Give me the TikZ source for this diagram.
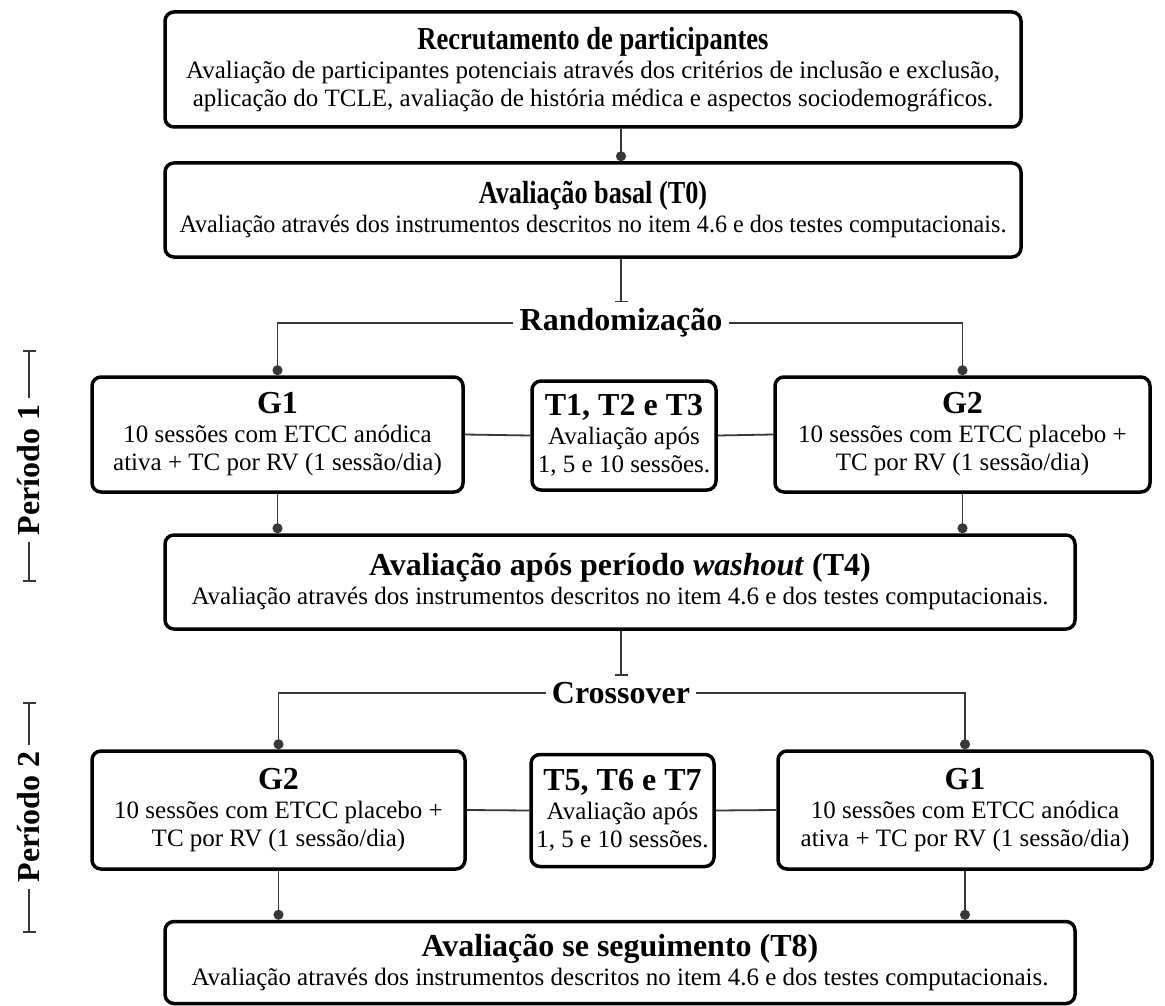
\documentclass[tikz,border=0pt]{standalone}
\usepackage{fontspec}
\setmainfont{Liberation Serif}
\usetikzlibrary{arrows.meta}
\newcommand{\ttl}{\fontsize{32}{34}\selectfont\bfseries}
\tikzset{
  box/.style={draw, line width=3.5pt, rounded corners=9pt, fill=white, align=center,
    inner sep=0pt, font=\fontsize{25}{28}\selectfont},
  conn/.style={draw=black!78, line width=1.8pt},
  dotend/.style={conn, -{Circle[length=10pt]}},
  barend/.style={conn, -{Bar[width=13pt, line width=1.8pt]}},
  lbl/.style={font=\ttl, inner sep=6pt},
}
\begin{document}
\begin{tikzpicture}[x=1pt, y=-1pt]
\useasboundingbox (0,0) rectangle (1165,1006);
\coordinate (cx) at (621,0);
% top boxes
\node[box, minimum width=856pt, minimum height=115pt] (B1) at (593,69.5)
  {{\ttl\scalebox{0.83}[1]{Recrutamento de participantes}}\\[1pt]
   Avaliação de participantes potenciais através dos critérios de inclusão e exclusão,\\
   aplicação do TCLE, avaliação de história médica e aspectos sociodemográficos.};
\node[box, minimum width=856pt, minimum height=94pt] (B2) at (593,210)
  {{\ttl\scalebox{0.82}[1]{Avaliação basal (T0)}}\\[1pt]
   \scalebox{0.965}[1]{Avaliação através dos instrumentos descritos no item 4.6 e dos testes computacionais.}};
\node[lbl] (rand) at (621,323) {Randomização};
% period 1 row
\node[box, minimum width=371pt, minimum height=115pt] (G1a) at (277.5,434.5)
  {{\ttl G1}\\[1pt] 10 sessões com ETCC anódica\\ ativa + TC por RV (1 sessão/dia)};
\node[box, minimum width=184pt, minimum height=109pt] (T1) at (624,435.5)
  {{\ttl T1, T2 e T3}\\[1pt] Avaliação após\\ 1, 5 e 10 sessões.};
\node[box, minimum width=375pt, minimum height=115pt] (G2a) at (962.5,434.5)
  {{\ttl G2}\\[1pt] 10 sessões com ETCC placebo +\\ TC por RV (1 sessão/dia)};
\node[box, minimum width=910pt, minimum height=94pt] (B4) at (620,582)
  {{\ttl Avaliação após período \textit{washout} (T4)}\\[1pt]
   Avaliação através dos instrumentos descritos no item 4.6 e dos testes computacionais.};
\node[lbl] (cross) at (621,693) {Crossover};
% period 2 row
\node[box, minimum width=373pt, minimum height=118pt] (G2b) at (278.5,810)
  {{\ttl G2}\\[1pt] 10 sessões com ETCC placebo +\\ TC por RV (1 sessão/dia)};
\node[box, minimum width=183pt, minimum height=112pt] (T5) at (622.5,810.5)
  {{\ttl T5, T6 e T7}\\[1pt] Avaliação após\\ 1, 5 e 10 sessões.};
\node[box, minimum width=374pt, minimum height=118pt] (G1b) at (965,810)
  {{\ttl G1}\\[1pt] 10 sessões com ETCC anódica\\ ativa + TC por RV (1 sessão/dia)};
\node[box, minimum width=910pt, minimum height=82pt] (B8) at (620,962.5)
  {{\ttl Avaliação se seguimento (T8)}\\[1pt]
   Avaliação através dos instrumentos descritos no item 4.6 e dos testes computacionais.};
% period labels
\node[lbl, rotate=90] (P1) at (29,470) {Período 1};
\node[lbl, rotate=90] (P2) at (29,817) {Período 2};
\coordinate (p1t) at (29,350); \coordinate (p1b) at (29,582);
\coordinate (p2t) at (29,702); \coordinate (p2b) at (29,933);
\draw[barend] (P1.east) -- (p1t);
\draw[barend] (P1.west) -- (p1b);
\draw[barend] (P2.east) -- (p2t);
\draw[barend] (P2.west) -- (p2b);
% connectors
\draw[dotend] (B1.south -| cx) -- (B2.north -| cx);
\draw[barend] (B2.south -| cx) -- (rand.north -| cx);
\draw[dotend] (rand.west) -| (G1a.north);
\draw[dotend] (rand.east) -| (G2a.north);
\draw[conn] (G1a.east) -- (T1.west);
\draw[conn] (T1.east) -- (G2a.west);
\draw[dotend] (G1a.south) -- (G1a.south |- B4.north);
\draw[dotend] (G2a.south) -- (G2a.south |- B4.north);
\draw[barend] (B4.south -| cx) -- (cross.north -| cx);
\draw[dotend] (cross.west) -| (G2b.north);
\draw[dotend] (cross.east) -| (G1b.north);
\draw[conn] (G2b.east) -- (T5.west);
\draw[conn] (T5.east) -- (G1b.west);
\draw[dotend] (G2b.south) -- (G2b.south |- B8.north);
\draw[dotend] (G1b.south) -- (G1b.south |- B8.north);
\end{tikzpicture}
\end{document}
